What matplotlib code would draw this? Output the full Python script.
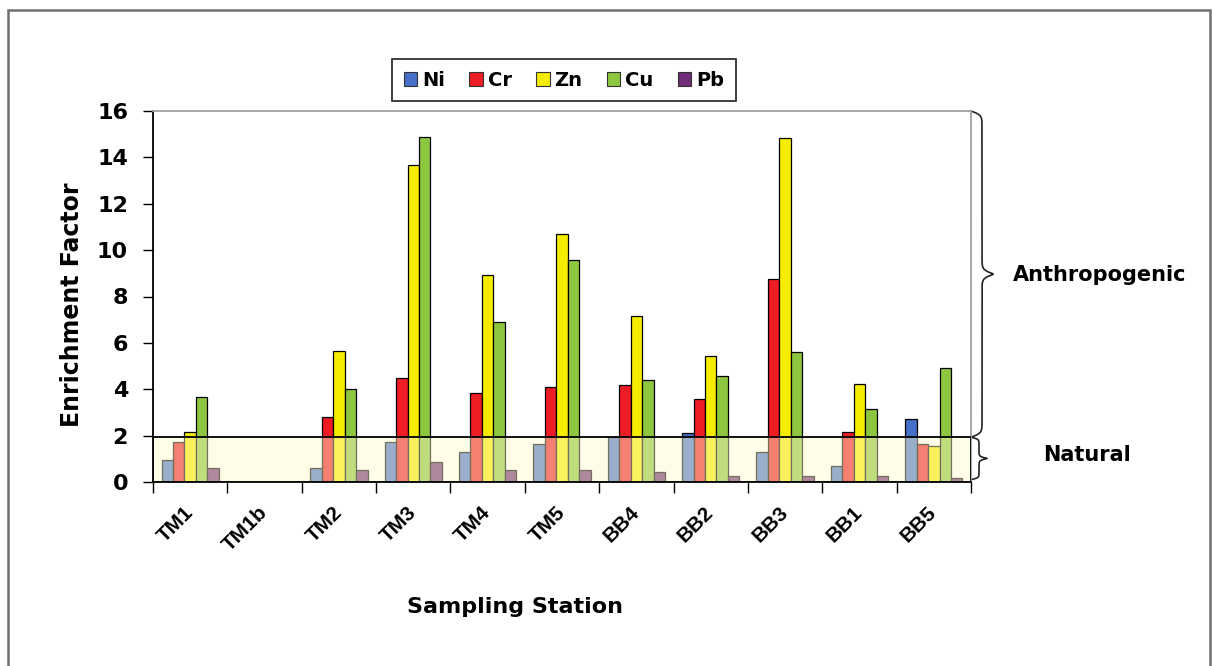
"""Enrichment factor of heavy metals per sampling station."""

import matplotlib
matplotlib.use('Agg')
import matplotlib.pyplot as plt
from matplotlib.patches import Patch, Rectangle
import matplotlib.transforms as mtransforms
import numpy as np

plt.rcParams['font.family'] = ['DejaVu Sans']

stations = ["TM1", "TM1b", "TM2", "TM3", "TM4", "TM5", "BB4", "BB2", "BB3", "BB1", "BB5"]
metals = ["Ni", "Cr", "Zn", "Cu", "Pb"]

ni = [0.95, 0.0, 0.62, 1.71, 1.28, 1.63, 1.95, 2.10, 1.28, 0.69, 2.72]
cr = [1.71, 0.0, 2.79, 4.47, 3.85, 4.08, 4.18, 3.58, 8.75, 2.17, 1.63]
zn = [2.14, 0.0, 5.66, 13.67, 8.93, 10.70, 7.16, 5.43, 14.83, 4.21, 1.55]
cu = [3.68, 0.0, 4.01, 14.88, 6.90, 9.57, 4.40, 4.57, 5.59, 3.15, 4.90]
pb = [0.62, 0.0, 0.52, 0.85, 0.52, 0.52, 0.42, 0.26, 0.26, 0.26, 0.16]

natural_limit = 1.93

COLORS = [
    "#4770C8",  # Ni
    "#EE1C24",  # Cr
    "#F5EC00",  # Zn
    "#8DC63F",  # Cu
    "#702C78",  # Pb
]

W, H = 1212, 666


def draw_brace(ax, y0, y1, width, sharp):
    # vertical curly brace just right of the axes, pointing right
    trans = mtransforms.blended_transform_factory(ax.transAxes, ax.transData)
    t = np.linspace(0, 0.5, 300)
    half = 1 / (1 + np.exp(-sharp * (t - t[0]))) + 1 / (1 + np.exp(-sharp * (t - t[-1])))
    prof = np.concatenate([half, half[::-1]]) - 0.5
    ys = np.linspace(y0, y1, prof.size)
    xs = 1.0 + width * prof
    ax.plot(xs, ys, color="#222222", lw=1.2, transform=trans, clip_on=False)


fig = plt.figure(figsize=(W / 100, H / 100), dpi=100)
ax = fig.add_axes([153 / W, 1 - 482 / H, (971 - 153) / W, (482 - 111) / H])

x = np.arange(len(stations))
bar_w = 1 / 6.5
series = [ni, cr, zn, cu, pb]
for i, (vals, color) in enumerate(zip(series, COLORS)):
    ax.bar(x + (i - 2) * bar_w, vals, bar_w, color=color, edgecolor="black",
           linewidth=0.9, zorder=2)

# natural background band drawn over the bars
ax.add_patch(Rectangle((-0.5, 0), len(stations), natural_limit,
                       facecolor=(1.0, 250 / 255, 205 / 255, 0.45),
                       edgecolor="black", linewidth=1.3, zorder=3))

ax.set_xlim(-0.5, len(stations) - 0.5)
ax.set_ylim(0, 16)
ax.set_yticks(np.arange(0, 17, 2))
ax.tick_params(axis="y", direction="out", length=7, width=1, pad=11,
               labelsize=16)
for lbl in ax.get_yticklabels():
    lbl.set_fontweight("bold")

ax.set_xticks(np.arange(-0.5, len(stations), 1))
ax.set_xticklabels([])
ax.tick_params(axis="x", which="major", direction="out", length=8, width=1)
ax.set_xticks(x, minor=True)
ax.set_xticklabels(stations, minor=True, rotation=45, ha="right",
                   va="center", rotation_mode="anchor", fontsize=15,
                   fontweight="bold", family=["Liberation Sans", "DejaVu Sans"])
ax.tick_params(axis="x", which="minor", length=0, pad=20)

for side in ["left", "bottom"]:
    ax.spines[side].set_color("black")
    ax.spines[side].set_linewidth(1.3)
for side in ["top", "right"]:
    ax.spines[side].set_color("#A0A0A0")
    ax.spines[side].set_linewidth(1.3)

draw_brace(ax, natural_limit, 16, 0.027, 160)
draw_brace(ax, 0.1, natural_limit, 0.0196, 45)

fig.text(1100 / W, 1 - 275 / H, "Anthropogenic", ha="center", va="center",
         fontsize=15, fontweight="bold")
fig.text(1087 / W, 1 - 455 / H, "Natural", ha="center", va="center",
         fontsize=15, fontweight="bold")

fig.text(72 / W, 1 - 305 / H, "Enrichment Factor", ha="center", va="center",
         rotation=90, fontsize=17, fontweight="bold")
fig.text(515 / W, 1 - 607 / H, "Sampling Station", ha="center", va="center",
         fontsize=16, fontweight="bold")

handles = [Patch(facecolor=c, edgecolor="#333333", linewidth=0.8, label=m)
           for m, c in zip(metals, COLORS)]
leg = fig.legend(handles=handles, loc="center",
                 bbox_to_anchor=(564 / W, 1 - 80 / H), ncol=5,
                 frameon=True, fancybox=False, edgecolor="black",
                 handlelength=0.7, handleheight=0.7, handletextpad=0.25,
                 columnspacing=1.25, borderpad=0.6,
                 prop={"weight": "bold", "size": 14})
leg.get_frame().set_linewidth(1.3)

# outer frame of the figure
fig.add_artist(Rectangle((8 / W, -0.02), (1210 - 8) / W, 1 - 10 / H + 0.02,
                         transform=fig.transFigure, fill=False,
                         edgecolor="#707070", linewidth=1.8))

fig.savefig("out.png", dpi=100)
